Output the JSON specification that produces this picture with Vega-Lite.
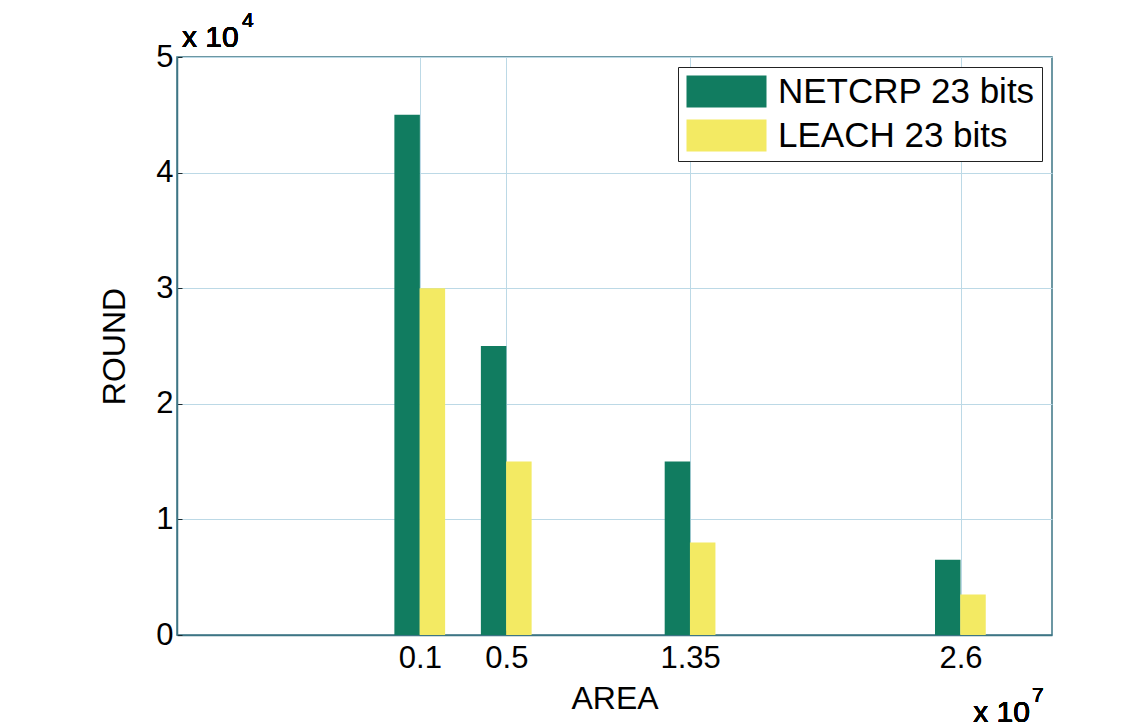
{
  "$schema": "https://vega.github.io/schema/vega-lite/v6.json",
  "width": 875,
  "height": 578,
  "autosize": {"type": "none"},
  "padding": {"left": 177, "top": 57, "right": 88, "bottom": 92},
  "background": "white",
  "config": {
    "font": "Liberation Sans",
    "view": {"stroke": "#3d7585", "strokeWidth": 1.5},
    "axis": {
      "domainColor": "#3d7585",
      "domainWidth": 1.5,
      "gridColor": "#bcd9e6",
      "gridWidth": 1,
      "gridOpacity": 1,
      "labelColor": "black",
      "titleColor": "black",
      "labelFont": "Liberation Sans",
      "titleFont": "Liberation Sans",
      "labelFontSize": 31,
      "titleFontSize": 32,
      "titleFontWeight": "normal",
      "tickColor": "#1a2a30",
      "tickSize": -5
    }
  },
  "data": {
    "values": [
      {"area": 0.1, "round": 4.5, "series": "NETCRP 23 bits"},
      {"area": 0.5, "round": 2.5, "series": "NETCRP 23 bits"},
      {"area": 1.35, "round": 1.5, "series": "NETCRP 23 bits"},
      {"area": 2.6, "round": 0.65, "series": "NETCRP 23 bits"},
      {"area": 0.1, "round": 3.0, "series": "LEACH 23 bits"},
      {"area": 0.5, "round": 1.5, "series": "LEACH 23 bits"},
      {"area": 1.35, "round": 0.8, "series": "LEACH 23 bits"},
      {"area": 2.6, "round": 0.35, "series": "LEACH 23 bits"}
    ]
  },
  "encoding": {
    "x": {
      "field": "area",
      "type": "quantitative",
      "scale": {"domain": [-1, 3], "nice": false, "zero": false},
      "axis": {"values": [0.1, 0.5, 1.35, 2.6], "labelExpr": "toString(datum.value)", "title": "AREA", "labelPadding": 13, "titlePadding": 10, "grid": true}
    },
    "y": {
      "field": "round",
      "type": "quantitative",
      "scale": {"domain": [0, 5], "nice": false},
      "axis": {"values": [0, 1, 2, 3, 4, 5], "format": "d", "title": "ROUND", "labelPadding": 9, "titlePadding": 24, "grid": true}
    }
  },
  "layer": [
    {
      "transform": [{"filter": "datum.series === 'NETCRP 23 bits'"}],
      "mark": {"type": "bar", "size": 25.5, "xOffset": -12.75},
      "encoding": {
        "color": {
          "field": "series",
          "type": "nominal",
          "scale": {"domain": ["NETCRP 23 bits", "LEACH 23 bits"], "range": ["#117c60", "#f3ea63"]},
          "legend": {
            "orient": "top-right",
            "offset": 10,
            "title": null,
            "symbolType": "M-2.5,-1H2.5V1H-2.5Z",
            "symbolSize": 1024,
            "symbolStrokeWidth": 0,
            "symbolOffset": 24,
            "labelFontSize": 35,
            "labelFont": "Liberation Sans",
            "labelColor": "black",
            "labelLimit": 500,
            "strokeColor": "#222222",
            "fillColor": "white",
            "padding": 7,
            "rowPadding": 8,
            "labelOffset": 34
          }
        }
      }
    },
    {
      "transform": [{"filter": "datum.series === 'LEACH 23 bits'"}],
      "mark": {"type": "bar", "size": 25.5, "xOffset": 12.5},
      "encoding": {
        "color": {"field": "series", "type": "nominal"}
      }
    },
    {
      "mark": {"type": "text", "align": "left", "baseline": "alphabetic", "dy": -10, "fontSize": 30, "font": "Liberation Sans", "color": "black"},
      "encoding": {
        "x": {"datum": -1, "type": "quantitative"},
        "y": {"datum": 5, "type": "quantitative"},
        "text": {"value": "x 10"}
      }
    },
    {
      "mark": {"type": "text", "align": "left", "baseline": "alphabetic", "dx": 60, "dy": -30, "fontSize": 21, "font": "Liberation Sans", "color": "black"},
      "encoding": {
        "x": {"datum": -1, "type": "quantitative"},
        "y": {"datum": 5, "type": "quantitative"},
        "text": {"value": "4"}
      }
    },
    {
      "mark": {"type": "text", "align": "right", "baseline": "alphabetic", "dx": -17, "dy": 87, "fontSize": 30, "font": "Liberation Sans", "color": "black"},
      "encoding": {
        "x": {"datum": 3, "type": "quantitative"},
        "y": {"datum": 0, "type": "quantitative"},
        "text": {"value": "x 10"}
      }
    },
    {
      "mark": {"type": "text", "align": "left", "baseline": "alphabetic", "dx": -15, "dy": 67, "fontSize": 21, "font": "Liberation Sans", "color": "black"},
      "encoding": {
        "x": {"datum": 3, "type": "quantitative"},
        "y": {"datum": 0, "type": "quantitative"},
        "text": {"value": "7"}
      }
    }
  ]
}
